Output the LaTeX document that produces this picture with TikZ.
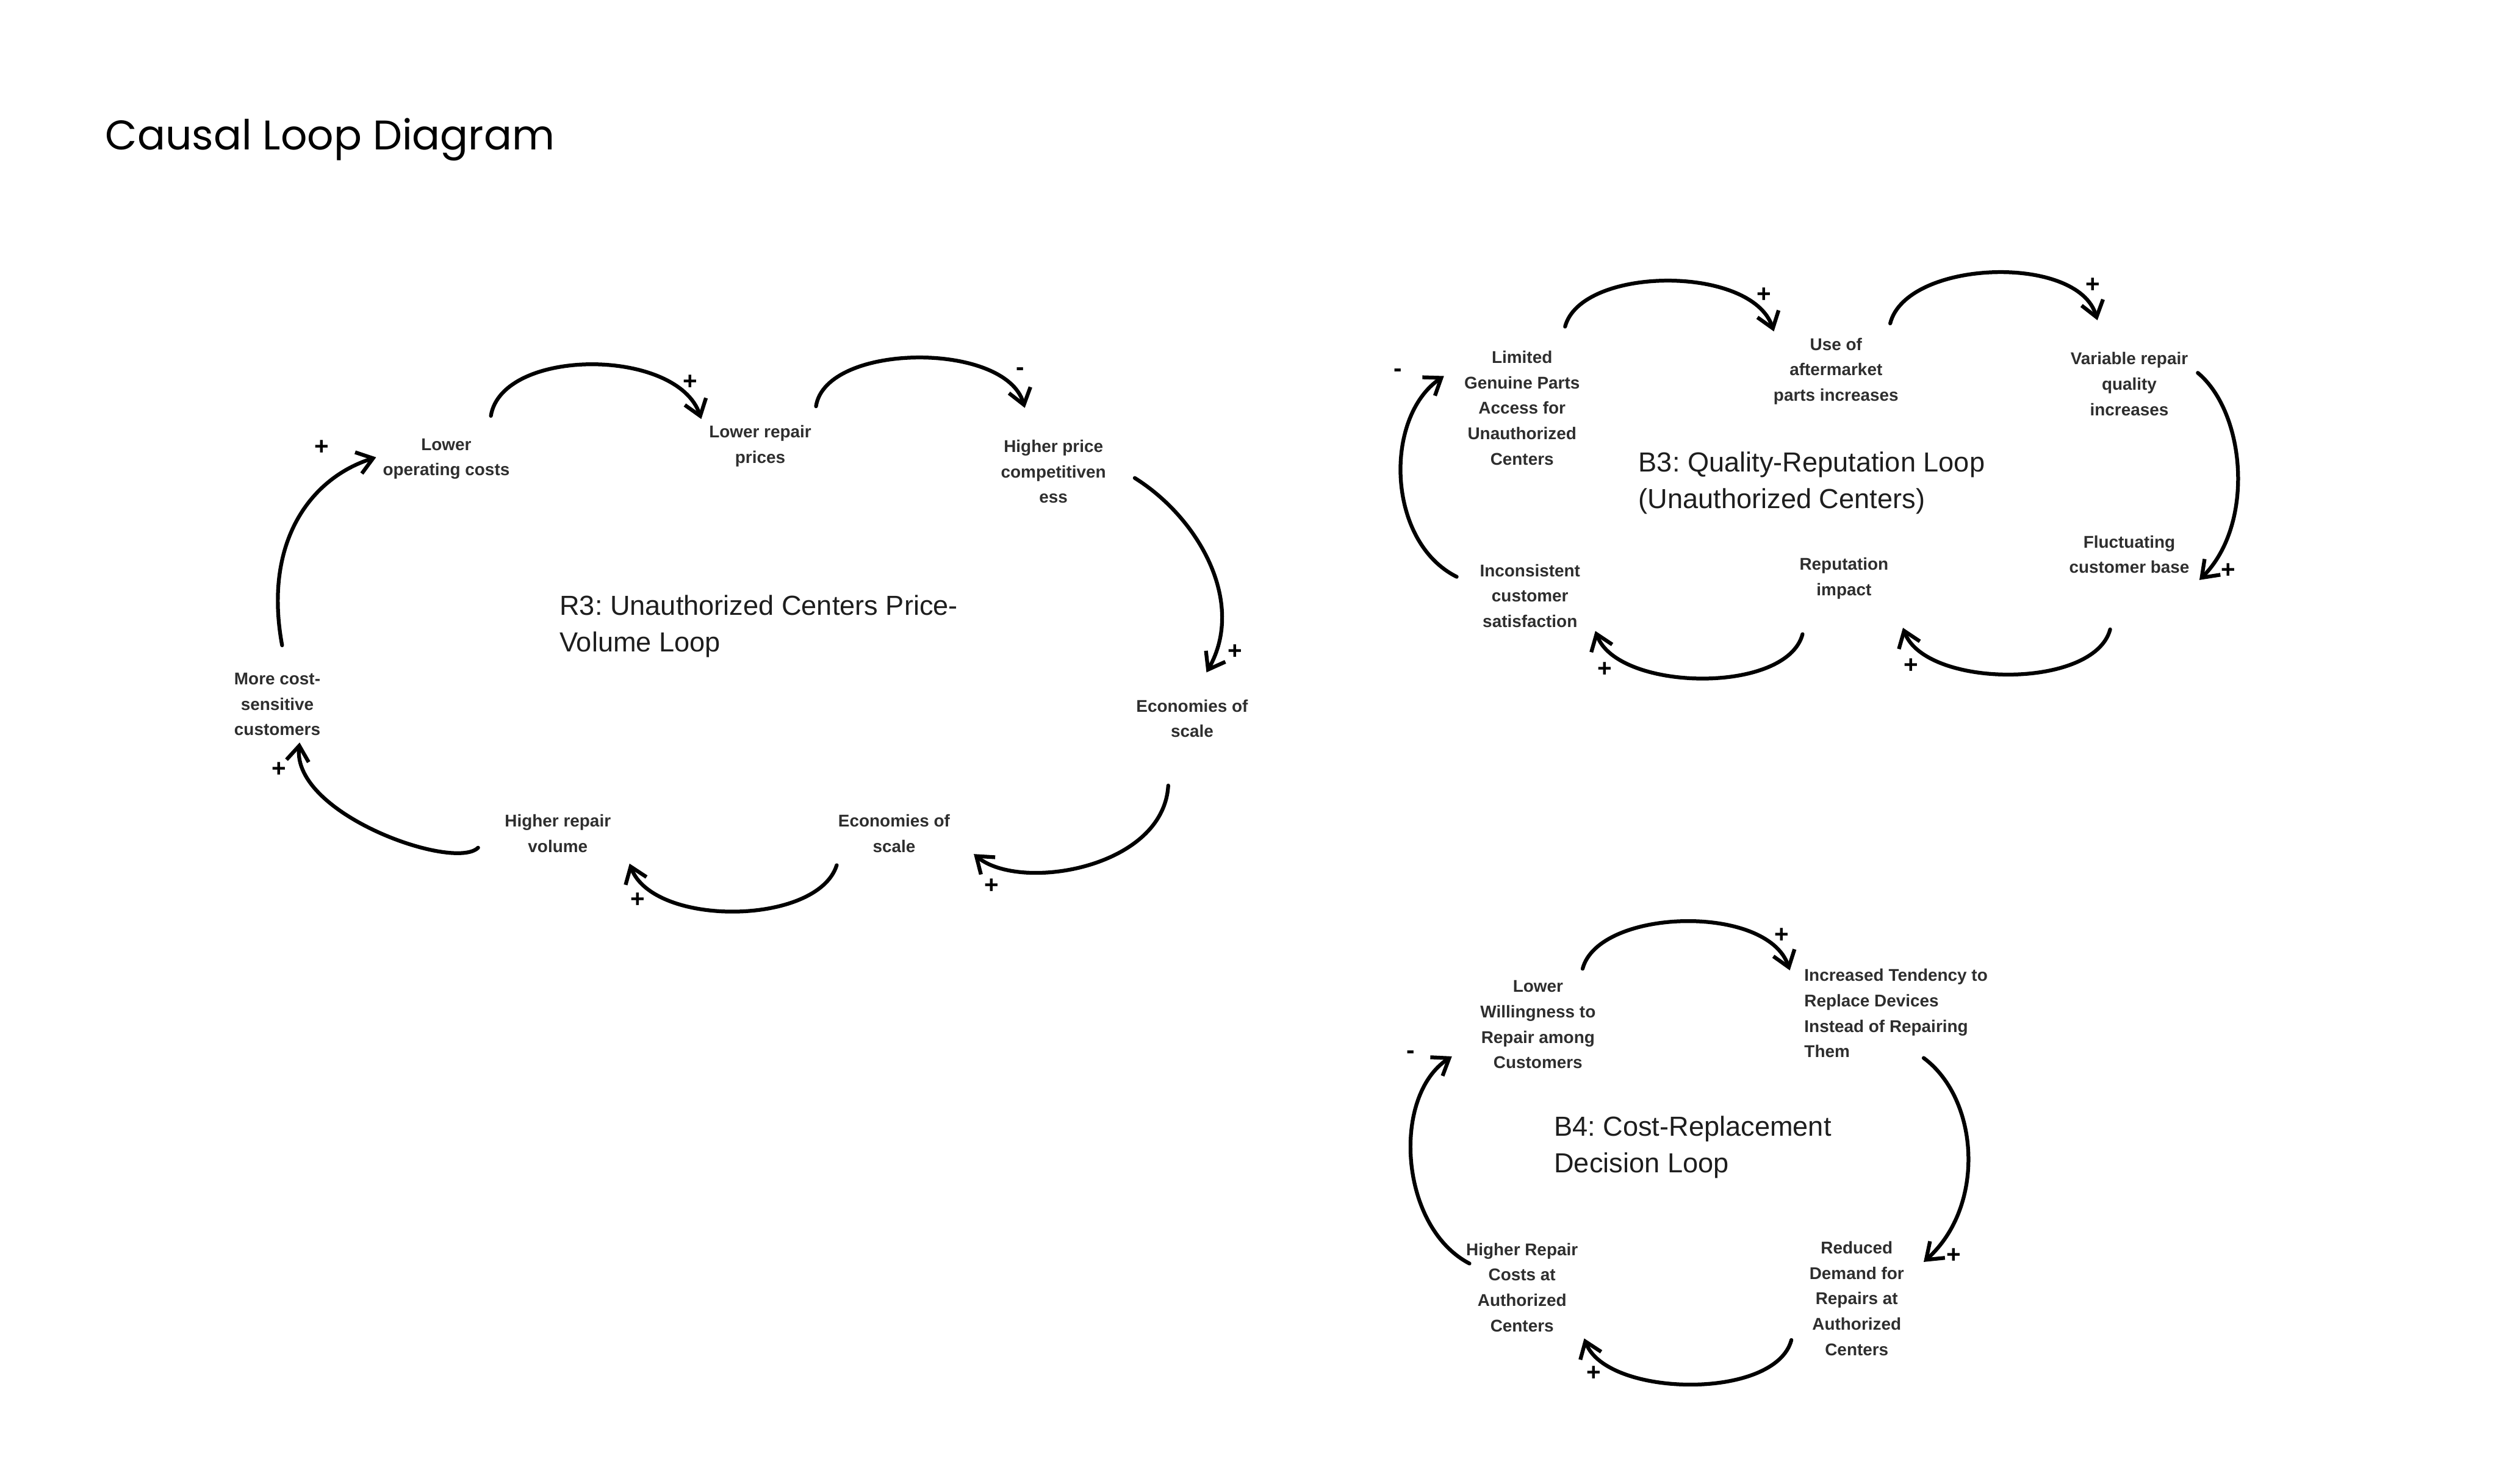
\documentclass[tikz,border=0pt]{standalone}
\usepackage{fontspec}
\setmainfont{Liberation Sans}
\newfontfamily\titlefont{Poppins}
\usetikzlibrary{arrows.meta,calc}
\definecolor{labelgray}{HTML}{2E2E2E}
\definecolor{titlegray}{HTML}{1E1E1E}
\frenchspacing
\begin{document}
\begin{tikzpicture}[x=0.05cm,y=-0.05cm,
  lbl/.style={font=\fontsize{15.2}{22.7}\selectfont\bfseries, text=labelgray, align=center, inner sep=0pt},
  looptitle/.style={font=\fontsize{24.6}{32.7}\selectfont, text=titlegray, align=left, anchor=west, inner sep=0pt},
  sgn/.style={font=\fontsize{22}{22}\selectfont\bfseries, inner sep=0pt},
  cl/.style={line width=3.4pt, line cap=round, -{Straight Barb[length=0.48cm,width=0.7cm]}}
]
\fill[white] (0,0) rectangle (1568,931);
\useasboundingbox (0,0) rectangle (1568,931);

\node[anchor=base west, font=\titlefont\fontsize{37}{40}\selectfont, inner sep=0pt] (title) at (66,94) {Causal Loop Diagram};

% ---------------- R3 ----------------
\node[lbl] (r1) at (280,288) {Lower\\operating costs};
\node[lbl] (r2) at (477,280) {Lower repair\\prices};
\node[lbl] (r3) at (661,296) {Higher price\\competitiven\\ess};
\node[lbl] (r4) at (748,451) {Economies of\\scale};
\node[lbl] (r5) at (561,523) {Economies of\\scale};
\node[lbl] (r6) at (350,523) {Higher repair\\volume};
\node[lbl] (r7) at (174,442) {More cost-\\sensitive\\customers};
\node[looptitle] (rt) at (351,393) {R3: Unauthorized Centers Price-\\Volume Loop};

\draw[cl] ($(r1)+(28,-27)$) .. controls +(7,-43) and +(-15,-45) .. ($(r2)+(-37,-17)$);
\draw[cl] ($(r2)+(35,-25)$) .. controls +(6,-40) and +(-12,-42) .. ($(r3)+(-18,-40)$);
\draw[cl] ($(r3)+(51,4)$) .. controls +(40,25) and +(25,-44) .. ($(r4)+(9,-29)$);
\draw[cl] ($(r4)+(-15,42)$) .. controls +(-3,52) and +(29,24) .. ($(r5)+(50,13)$);
\draw[cl] ($(r5)+(-36,20)$) .. controls +(-12,38) and +(15,40) .. ($(r6)+(45,19)$);
\draw[cl] ($(r6)+(-50,9)$) .. controls +(-15,15) and +(-5,45) .. ($(r7)+(14,24)$);
\draw[cl] ($(r7)+(3,-37)$) .. controls +(-12,-65) and +(-41,13) .. ($(r1)+(-44,-1)$);

\node[sgn] (rs1) at (433,240) {+};
\node[sgn] (rs2) at (640,233) {-};
\node[sgn] (rs3) at (775,409) {+};
\node[sgn] (rs4) at (622,556) {+};
\node[sgn] (rs5) at (400,565) {+};
\node[sgn] (rs6) at (175,483) {+};
\node[sgn] (rs7) at (202,281) {+};

% ---------------- B3 ----------------
\node[lbl] (b1) at (955,256) {Limited\\Genuine Parts\\Access for\\Unauthorized\\Centers};
\node[lbl] (b2) at (1152,233) {Use of\\aftermarket\\parts increases};
\node[lbl] (b3) at (1336,241) {Variable repair\\quality\\increases};
\node[lbl] (b4) at (1336,348) {Fluctuating\\customer base};
\node[lbl] (b5) at (1157,363) {Reputation\\impact};
\node[lbl] (b6) at (960,374) {Inconsistent\\customer\\satisfaction};
\node[looptitle] (bt) at (1028,303) {B3: Quality-Reputation Loop\\(Unauthorized Centers)};

\draw[cl] ($(b1)+(27,-51)$) .. controls +(10,-38) and +(-14,-42) .. ($(b2)+(-39,-25)$);
\draw[cl] ($(b2)+(34,-30)$) .. controls +(10,-40) and +(-12,-42) .. ($(b3)+(-20,-40)$);
\draw[cl] ($(b3)+(43,-7)$) .. controls +(30,25) and +(35,-35) .. ($(b4)+(44,16)$);
\draw[cl] ($(b4)+(-12,47)$) .. controls +(-10,38) and +(14,38) .. ($(b5)+(37,31)$);
\draw[cl] ($(b5)+(-26,35)$) .. controls +(-10,38) and +(14,38) .. ($(b6)+(41,22)$);
\draw[cl] ($(b6)+(-46,-12)$) .. controls +(-44,-22) and +(-38,26) .. ($(b1)+(-49,-20)$);

\node[sgn] (bs1) at (1107,185) {+};
\node[sgn] (bs2) at (1313,179) {+};
\node[sgn] (bs3) at (1398,358) {+};
\node[sgn] (bs4) at (1199,418) {+};
\node[sgn] (bs5) at (1007,420) {+};
\node[sgn] (bs6) at (877,234) {-};

% ---------------- B4 ----------------
\node[lbl] (c1) at (965,643) {Lower\\Willingness to\\Repair among\\Customers};
\node[lbl, align=left, anchor=west] (c2) at (1132,636) {Increased Tendency to\\Replace Devices\\Instead of Repairing\\Them};
\node[lbl] (c3) at (1165,815) {Reduced\\Demand for\\Repairs at\\Authorized\\Centers};
\node[lbl] (c4) at (955,808) {Higher Repair\\Costs at\\Authorized\\Centers};
\node[looptitle] (ct) at (975,720) {B4: Cost-Replacement\\Decision Loop};

\draw[cl] ($(c1)+(28,-35)$) .. controls +(10,-38) and +(-14,-42) .. ($(c2.west)+(-9,-27)$);
\draw[cl] ($(c2.west)+(75,28)$) .. controls +(35,26) and +(39,-35) .. ($(c3)+(42,-23)$);
\draw[cl] ($(c3)+(-41,26)$) .. controls +(-10,38) and +(14,37) .. ($(c4)+(39,32)$);
\draw[cl] ($(c4)+(-33,-15)$) .. controls +(-44,-23) and +(-38,25) .. ($(c1)+(-54,20)$);

\node[sgn] (cs1) at (1118,587) {+};
\node[sgn] (cs2) at (1226,788) {+};
\node[sgn] (cs3) at (1000,862) {+};
\node[sgn] (cs4) at (885,662) {-};
\end{tikzpicture}
\end{document}
